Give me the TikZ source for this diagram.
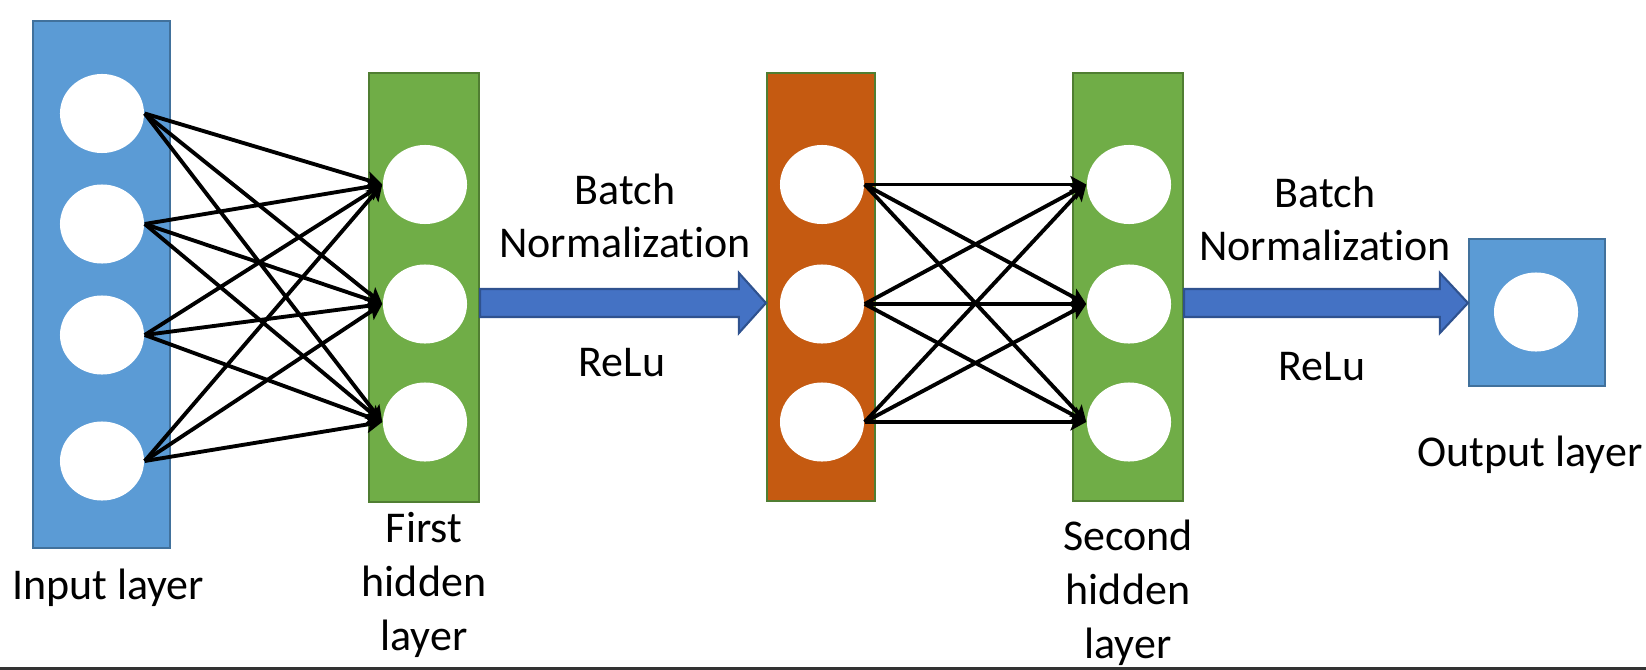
\documentclass[tikz,border=0pt]{standalone}
\usepackage{fontspec}
\setmainfont{Carlito}[Ligatures=NoCommon]
\usepackage{tikz}
\usetikzlibrary{arrows.meta}
\usetikzlibrary{shapes.geometric}
\usetikzlibrary{calc}
\definecolor{inblue}{HTML}{5B9BD5}
\definecolor{inedge}{HTML}{41719C}
\definecolor{hidgreen}{HTML}{70AD47}
\definecolor{greenedge}{HTML}{507E32}
\definecolor{bnorange}{HTML}{C55A11}
\definecolor{arrowblue}{HTML}{4472C4}
\definecolor{arrowedge}{HTML}{2F528F}

\begin{document}
\begin{tikzpicture}[
		x=0.01cm, y=-0.01cm,
		layer/.style={draw, line width=0.6pt, inner sep=0pt},
		neuron/.style={ellipse, fill=white, inner sep=0pt,
			minimum width=0.84cm, minimum height=0.79cm},
		link/.style={black, line width=1.1pt,
			-{Stealth[length=4.5pt, width=4.8pt, inset=1pt]}},
		blockarrow/.style={fill=arrowblue, draw=arrowedge, line width=0.6pt},
		caption/.style={align=center, inner sep=0pt,
			font=\fontsize{12.5}{15.3}\selectfont}
	]
	\useasboundingbox (0,0) rectangle (1646,670);

	% layers
	\node[layer, fill=inblue, draw=inedge,
		minimum width=1.37cm, minimum height=5.27cm] (inl) at (101.5,284.5) {};
	\node[layer, fill=hidgreen, draw=greenedge,
		minimum width=1.10cm, minimum height=4.29cm] (hl1) at (424,287.5) {};
	\node[layer, fill=bnorange, draw=greenedge,
		minimum width=1.08cm, minimum height=4.28cm] (bnl) at (821,287) {};
	\node[layer, fill=hidgreen, draw=greenedge,
		minimum width=1.10cm, minimum height=4.28cm] (hl2) at (1128,287) {};
	\node[layer, fill=inblue, draw=inedge,
		minimum width=1.36cm, minimum height=1.47cm] (outl) at (1537,312.5) {};

	% neurons
	\foreach \y [count=\i] in {113.5,224,335,461}
		\node[neuron] (in\i) at (102,\y) {};
	\foreach \y [count=\i] in {184.5,304,422} {
		\node[neuron] (ha\i) at (425,\y) {};
		\node[neuron] (bn\i) at (822,\y) {};
		\node[neuron] (hb\i) at (1129,\y) {};
	}
	\node[neuron] (out1) at (1536,312) {};

	% weights
	\foreach \i in {1,...,4}
		\foreach \j in {1,2,3}
			\draw[link] (in\i.east) -- (ha\j.west);
	\foreach \i in {1,2,3}
		\foreach \j in {1,2,3}
			\draw[link] (bn\i.east) -- (hb\j.west);

	% batch normalization arrows
	\coordinate (lvl) at (0,303);
	\draw[blockarrow]
		($(hl1.east |- lvl)+(0,-14)$) -- ($(bnl.west |- lvl)+(-27,-14)$)
		-- ++(0,-16) -- (bnl.west |- lvl) -- ++(-27,30) -- ++(0,-16)
		-- ($(hl1.east |- lvl)+(0,14)$) -- cycle;
	\draw[blockarrow]
		($(hl2.east |- lvl)+(0,-14)$) -- ($(outl.west |- lvl)+(-28,-14)$)
		-- ++(0,-16) -- (outl.west |- lvl) -- ++(-28,30) -- ++(0,-16)
		-- ($(hl2.east |- lvl)+(0,14)$) -- cycle;

	% captions (base = baseline of the last line)
	\node[caption, anchor=base] (incap) at (108,599) {Input layer};
	\node[caption, anchor=base] (h1cap) at (424,650) {First\\hidden\\layer};
	\node[caption, anchor=base] (h2cap) at (1128,658) {Second\\hidden\\layer};
	\node[caption, anchor=base] (bn1cap) at (625,258) {Batch\\Normalization};
	\node[caption, anchor=base] (relu1) at (622,376) {ReLu};
	\node[caption, anchor=base] (bn2cap) at (1325,261) {Batch\\Normalization};
	\node[caption, anchor=base] (relu2) at (1322,380) {ReLu};
	\node[caption, anchor=base] (outcap) at (1530,466) {Output layer};

	\draw[line width=0.6pt, black!80] (0,668.5) -- (1646,668.5);
\end{tikzpicture}
\end{document}
